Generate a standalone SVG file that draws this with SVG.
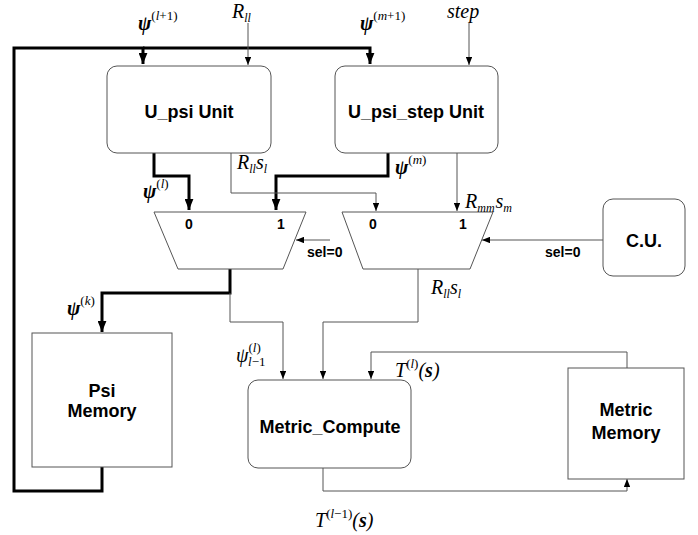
<svg xmlns="http://www.w3.org/2000/svg" width="698" height="535" viewBox="0 0 698 535">
<defs>
<marker id="ah" viewBox="0 0 10 8" refX="10" refY="4" markerWidth="8" markerHeight="6.4" markerUnits="userSpaceOnUse" orient="auto"><path d="M0,0 L10,4 L0,8 z" fill="#000"/></marker>
<marker id="ahb" viewBox="0 0 10 8" refX="10" refY="4" markerWidth="11" markerHeight="9" markerUnits="userSpaceOnUse" orient="auto"><path d="M0,0 L10,4 L0,8 z" fill="#000"/></marker>
<style>
.box{fill:#fff;stroke:#555;stroke-width:1}
.thin{fill:none;stroke:#555;stroke-width:1}
.thick{fill:none;stroke:#000;stroke-width:3}
.lbl{font-family:"Liberation Sans",Arial,sans-serif;font-weight:bold;font-size:18px;fill:#000;text-anchor:middle}
.sm{font-family:"Liberation Sans",Arial,sans-serif;font-weight:bold;font-size:14px;fill:#000}
.m{font-family:"Liberation Serif","Times New Roman",serif;font-style:italic;font-size:20px;fill:#000}
.mb{font-weight:bold}
.sup{font-size:13px;font-style:normal}
.supi{font-size:13px;font-style:italic}
.sub{font-size:12px;font-style:italic}
</style>
</defs>
<g id="connectors">
<polyline class="thick" points="102,467 102,491 14,491 14,48 143,48 143,64" marker-end="url(#ahb)"/>
<polyline class="thick" points="143,48 370,48 370,64" marker-end="url(#ahb)"/>
<line class="thin" x1="248" y1="23" x2="248" y2="65" marker-end="url(#ah)"/>
<line class="thin" x1="469" y1="23" x2="469" y2="65" marker-end="url(#ah)"/>
<polyline class="thick" points="154,153 154,176 189,176 189,210" marker-end="url(#ahb)"/>
<polyline class="thick" points="388,153 388,176 276,176 276,210" marker-end="url(#ahb)"/>
<polyline class="thin" points="231,153 231,193 376,193 376,211" marker-end="url(#ah)"/>
<line class="thin" x1="457" y1="153" x2="457" y2="211" marker-end="url(#ah)"/>
<line class="thin" x1="330" y1="240" x2="296" y2="240" marker-end="url(#ah)"/>
<line class="thin" x1="603" y1="240" x2="482" y2="240" marker-end="url(#ah)"/>
<polyline class="thick" points="230,269 230,293 102,293 102,332" marker-end="url(#ahb)"/>
<polyline class="thin" points="230,293 230,322 283,322 283,379" marker-end="url(#ah)"/>
<polyline class="thin" points="418,269 418,322 323,322 323,379" marker-end="url(#ah)"/>
<polyline class="thin" points="627,368 627,352 371,352 371,379" marker-end="url(#ah)"/>
<polyline class="thin" points="323,468 323,491 627,491 627,479" marker-end="url(#ah)"/>
</g>
<g id="u_psi"><rect class="box" x="107" y="66" width="164" height="87" rx="10"/><text class="lbl" x="189" y="118">U_psi Unit</text></g>
<g id="u_psi_step"><rect class="box" x="335" y="66" width="163" height="87" rx="10"/><text class="lbl" x="416" y="118">U_psi_step Unit</text></g>
<g id="mux1"><polygon class="box" points="154,212 306,212 283,269 178,269"/><text class="sm" x="185" y="229">0</text><text class="sm" x="277" y="229">1</text></g>
<g id="mux2"><polygon class="box" points="342,212 493,212 470,269 363,269"/><text class="sm" x="369" y="229">0</text><text class="sm" x="459" y="229">1</text></g>
<g id="cu"><rect class="box" x="603" y="199" width="82" height="77" rx="10"/><text class="lbl" x="644" y="247">C.U.</text></g>
<g id="psi_memory"><rect class="box" x="32" y="333" width="140" height="134"/><text class="lbl" x="102" y="397">Psi</text><text class="lbl" x="102" y="417">Memory</text></g>
<g id="metric_compute"><rect class="box" x="248" y="380" width="163" height="88" rx="10"/><text class="lbl" x="330" y="433">Metric_Compute</text></g>
<g id="metric_memory"><rect class="box" x="568" y="368" width="116" height="111"/><text class="lbl" x="626" y="416">Metric</text><text class="lbl" x="626" y="439">Memory</text></g>
<g id="labels">
<text class="sm" x="307" y="257">sel=0</text>
<text class="sm" x="545" y="257">sel=0</text>
<text class="m" x="138" y="30"><tspan class="mb">ψ</tspan><tspan class="sup" dy="-10">(<tspan class="supi">l</tspan>+1)</tspan></text>
<text class="m" x="360" y="30"><tspan class="mb">ψ</tspan><tspan class="sup" dy="-10">(<tspan class="supi">m</tspan>+1)</tspan></text>
<text class="m" x="232" y="18">R<tspan class="sub" dy="4">ll</tspan></text>
<text class="m" x="447" y="18">step</text>
<text class="m" x="237" y="169">R<tspan class="sub" dy="4">ll</tspan><tspan dy="-4">s</tspan><tspan class="sub" dy="4">l</tspan></text>
<text class="m" x="143" y="198"><tspan class="mb">ψ</tspan><tspan class="sup" dy="-10">(<tspan class="supi">l</tspan>)</tspan></text>
<text class="m" x="395" y="174"><tspan class="mb">ψ</tspan><tspan class="sup" dy="-10">(<tspan class="supi">m</tspan>)</tspan></text>
<text class="m" x="465" y="208">R<tspan class="sub" dy="4">mm</tspan><tspan dy="-4" dx="1">s</tspan><tspan class="sub" dy="4">m</tspan></text>
<text class="m" x="67" y="315"><tspan class="mb">ψ</tspan><tspan class="sup" dy="-10">(<tspan class="supi">k</tspan>)</tspan></text>
<text class="m" x="236" y="362">ψ<tspan class="sup" dy="-10">(<tspan class="supi">l</tspan>)</tspan></text>
<text class="m" x="248" y="366"><tspan class="supi">l</tspan><tspan class="sup">−1</tspan></text>
<text class="m" x="431" y="294">R<tspan class="sub" dy="4">ll</tspan><tspan dy="-4">s</tspan><tspan class="sub" dy="4">l</tspan></text>
<text class="m" x="395" y="377">T<tspan class="sup" dy="-9">(<tspan class="supi">l</tspan>)</tspan><tspan dy="9">(</tspan><tspan class="mb">s</tspan>)</text>
<text class="m" x="315" y="527">T<tspan class="sup" dy="-9">(<tspan class="supi">l</tspan>−1)</tspan><tspan dy="9">(</tspan><tspan class="mb">s</tspan>)</text>
</g>
</svg>
